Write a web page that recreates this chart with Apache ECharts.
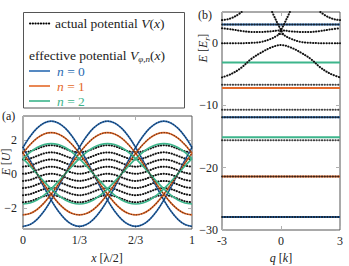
<!DOCTYPE html>
<html><head><meta charset="utf-8">
<script src="https://cdn.jsdelivr.net/npm/echarts@6/dist/echarts.min.js"></script>
<style>html,body{margin:0;padding:0;background:#fff}#c{width:349px;height:266px}</style>
</head><body><div id="c"></div>
<script>
// ---------- panel (a): x in units of lambda/2 ----------
const xA = [0,1/24,2/24,3/24,4/24,5/24,6/24,7/24,8/24,9/24,10/24,11/24,12/24,13/24,14/24,15/24,16/24,17/24,18/24,19/24,20/24,21/24,22/24,23/24,24/24];
const xTicksA = [0,1/3,2/3,1];
const xTickLabelsA = ['0','1/3','2/3','1'];
const yTicksA = [-2,0,2];

// effective potentials, n = 0 (blue), three shifted copies
const blueM0 = [1.55,2.19,2.68,2.99,3.1,2.99,2.68,2.19,1.55,0.8,0,-0.8,-1.55,-2.19,-2.68,-2.99,-3.1,-2.99,-2.68,-2.19,-1.55,-0.8,0,0.8,1.55];
const blueM1 = [-3.1,-2.99,-2.68,-2.19,-1.55,-0.8,0,0.8,1.55,2.19,2.68,2.99,3.1,2.99,2.68,2.19,1.55,0.8,0,-0.8,-1.55,-2.19,-2.68,-2.99,-3.1];
const blueM2 = [1.55,0.8,0,-0.8,-1.55,-2.19,-2.68,-2.99,-3.1,-2.99,-2.68,-2.19,-1.55,-0.8,0,0.8,1.55,2.19,2.68,2.99,3.1,2.99,2.68,2.19,1.55];
// n = 1 (orange)
const orangeM0 = [1.21,1.71,2.1,2.34,2.42,2.34,2.1,1.71,1.21,0.63,0,-0.63,-1.21,-1.71,-2.1,-2.34,-2.42,-2.34,-2.1,-1.71,-1.21,-0.63,0,0.63,1.21];
const orangeM1 = [-2.42,-2.34,-2.1,-1.71,-1.21,-0.63,0,0.63,1.21,1.71,2.1,2.34,2.42,2.34,2.1,1.71,1.21,0.63,0,-0.63,-1.21,-1.71,-2.1,-2.34,-2.42];
const orangeM2 = [1.21,0.63,0,-0.63,-1.21,-1.71,-2.1,-2.34,-2.42,-2.34,-2.1,-1.71,-1.21,-0.63,0,0.63,1.21,1.71,2.1,2.34,2.42,2.34,2.1,1.71,1.21];
// n = 2 (green)
const greenM0 = [0.89,1.26,1.54,1.72,1.78,1.72,1.54,1.26,0.89,0.46,0,-0.46,-0.89,-1.26,-1.54,-1.72,-1.78,-1.72,-1.54,-1.26,-0.89,-0.46,0,0.46,0.89];
const greenM1 = [-1.78,-1.72,-1.54,-1.26,-0.89,-0.46,0,0.46,0.89,1.26,1.54,1.72,1.78,1.72,1.54,1.26,0.89,0.46,0,-0.46,-0.89,-1.26,-1.54,-1.72,-1.78];
const greenM2 = [0.89,0.46,0,-0.46,-0.89,-1.26,-1.54,-1.72,-1.78,-1.72,-1.54,-1.26,-0.89,-0.46,0,0.46,0.89,1.26,1.54,1.72,1.78,1.72,1.54,1.26,0.89];

// actual potential, remaining branches (black dotted stripes)
const blackA1 = [1.26,1.32,1.47,1.62,1.68,1.62,1.47,1.32,1.26,1.32,1.47,1.62,1.68,1.62,1.47,1.32,1.26,1.32,1.47,1.62,1.68,1.62,1.47,1.32,1.26];
const blackA2 = [0.84,0.9,1.05,1.2,1.26,1.2,1.05,0.9,0.84,0.9,1.05,1.2,1.26,1.2,1.05,0.9,0.84,0.9,1.05,1.2,1.26,1.2,1.05,0.9,0.84];
const blackA3 = [0.42,0.48,0.63,0.78,0.84,0.78,0.63,0.48,0.42,0.48,0.63,0.78,0.84,0.78,0.63,0.48,0.42,0.48,0.63,0.78,0.84,0.78,0.63,0.48,0.42];
const blackA4 = [0,0.06,0.21,0.36,0.42,0.36,0.21,0.06,0,0.06,0.21,0.36,0.42,0.36,0.21,0.06,0,0.06,0.21,0.36,0.42,0.36,0.21,0.06,0];
const blackA5 = [-0.42,-0.36,-0.21,-0.06,0,-0.06,-0.21,-0.36,-0.42,-0.36,-0.21,-0.06,0,-0.06,-0.21,-0.36,-0.42,-0.36,-0.21,-0.06,0,-0.06,-0.21,-0.36,-0.42];
const blackA6 = [-0.84,-0.78,-0.63,-0.48,-0.42,-0.48,-0.63,-0.78,-0.84,-0.78,-0.63,-0.48,-0.42,-0.48,-0.63,-0.78,-0.84,-0.78,-0.63,-0.48,-0.42,-0.48,-0.63,-0.78,-0.84];
const blackA7 = [-1.26,-1.2,-1.05,-0.9,-0.84,-0.9,-1.05,-1.2,-1.26,-1.2,-1.05,-0.9,-0.84,-0.9,-1.05,-1.2,-1.26,-1.2,-1.05,-0.9,-0.84,-0.9,-1.05,-1.2,-1.26];
const blackA8 = [-1.68,-1.62,-1.47,-1.32,-1.26,-1.32,-1.47,-1.62,-1.68,-1.62,-1.47,-1.32,-1.26,-1.32,-1.47,-1.62,-1.68,-1.62,-1.47,-1.32,-1.26,-1.32,-1.47,-1.62,-1.68];

// ---------- panel (b): bands vs q ----------
const qEdges = [-3,3];
const xTicksB = [-3,0,3];
const yTicksB = [-30,-20,-10,0];
const blueBands = [3.0,-11.9,-27.9];
const orangeBands = [-7.2,-21.4];
const greenBands = [-3.1,-15.1];
const blackFlatBands = [3.0,-6.7,-10.7,-11.9,-15.6,-21.4,-27.9];
const qBell = [-3,-2.5,-2,-1.5,-1,-0.5,0,0.5,1,1.5,2,2.5,3];
const eBell = [-5.5,-4.9,-3.9,-2.5,-1.5,-0.7,-0.3,-0.7,-1.5,-2.5,-3.9,-4.9,-5.5];
const qHump = [-3,-2,-1.5,-1,-0.5,-0.25,0,0.25,0.5,1,1.5,2,3];
const eHump = [0,0,0.05,0.2,0.7,1.1,1.5,1.1,0.7,0.2,0.05,0,0];
const qUpper = [-3,-2.5,-2,-1.5,-1,-0.5,0,0.5,1,1.5,2,2.5,3];
const eUpper = [2.4,2.2,1.95,1.8,1.8,1.9,2.05,1.9,1.8,1.8,1.95,2.2,2.4];
const qVLeft = [-0.45,-0.3,-0.15,0,0.1];
const eVLeft = [5.0,4.0,3.0,2.1,1.5];
const qVRight = [-0.1,0,0.15,0.3,0.45];
const eVRight = [1.5,2.1,3.0,4.0,5.0];
const qArcLeft = [-3,-2.75,-2.5,-2.25,-2];
const eArcLeft = [3.7,3.8,4.05,4.45,5.0];
const qArcRight = [2,2.25,2.5,2.75,3];
const eArcRight = [5.0,4.45,4.05,3.8,3.7];

// ---------- drawing ----------
const FONT = 'Liberation Serif';
const C_BLUE = '#2b6cb3', C_ORANGE = '#e46a2a', C_GREEN = '#3db58b';
const DOT = {color:'#111', width:2, type:[0.3,2.4], cap:'round'};
const pairs = (xs, ys) => xs.map((x,i)=>[x, ys[i]]);

const series = [];
function line(grid, data, lineStyle, smooth, z){
  series.push({type:'line', xAxisIndex:grid, yAxisIndex:grid, data, symbol:'none', smooth:smooth?0.35:false,
    lineStyle, z:z||2, silent:true, animation:false});
}
// (a)
[blackA1,blackA2,blackA3,blackA4,blackA5,blackA6,blackA7,blackA8].forEach(a=>line(0, pairs(xA,a), DOT, true, 2));
const colA = [[blueM0,C_BLUE],[blueM1,C_BLUE],[blueM2,C_BLUE],[orangeM0,C_ORANGE],[orangeM1,C_ORANGE],[orangeM2,C_ORANGE],[greenM0,C_GREEN],[greenM1,C_GREEN],[greenM2,C_GREEN]];
colA.forEach(([a,c])=>line(0, pairs(xA,a), {color:c, width:1.7}, true, 3));
colA.slice(0,6).forEach(([a,c])=>line(0, pairs(xA,a), {color:'#000', width:1.3, type:[0.3,2.3], cap:'round', opacity:0.5}, true, 4));
// (b)
blueBands.forEach(e=>line(1, pairs(qEdges,[e,e]), {color:C_BLUE, width:2}, false, 3));
orangeBands.forEach(e=>line(1, pairs(qEdges,[e,e]), {color:C_ORANGE, width:2}, false, 3));
greenBands.forEach(e=>line(1, pairs(qEdges,[e,e]), {color:C_GREEN, width:2}, false, 3));
blackFlatBands.forEach(e=>line(1, pairs(qEdges,[e,e]), Object.assign({}, DOT, {opacity:0.8}), false, 4));
[[qBell,eBell],[qHump,eHump],[qUpper,eUpper],[qVLeft,eVLeft],[qVRight,eVRight],[qArcLeft,eArcLeft],[qArcRight,eArcRight]]
  .forEach(([q,e])=>line(1, pairs(q,e), DOT, true, 4));

const tickGray = {show:true, inside:true, length:4, lineStyle:{color:'#b0b0b0', width:1}};
const noLine = {show:false, onZero:false};
const lab = {fontFamily:FONT, fontSize:12, color:'#222'};
const minus = v => (v<0 ? '\u2212'+Math.abs(v) : String(v));

const option = {
  animation:false,
  backgroundColor:'#fff',
  grid:[
    {left:23, top:116, width:169, height:113, show:true, borderColor:'#555', borderWidth:1, backgroundColor:'transparent'},
    {left:222, top:12, width:118, height:218, show:true, borderColor:'#555', borderWidth:1, backgroundColor:'transparent'}
  ],
  xAxis:[
    {gridIndex:0, type:'value', min:0, max:1, axisLine:noLine, splitLine:{show:false},
      axisTick:Object.assign({customValues:xTicksA}, tickGray),
      axisLabel:Object.assign({customValues:xTicksA, margin:5, formatter:v=>xTickLabelsA[xTicksA.findIndex(t=>Math.abs(t-v)<1e-6)]}, lab)},
    {gridIndex:1, type:'value', min:-3, max:3, axisLine:noLine, splitLine:{show:false},
      axisTick:Object.assign({customValues:xTicksB}, tickGray),
      axisLabel:Object.assign({customValues:xTicksB, margin:5, formatter:v=>String(v)}, lab)},
    {gridIndex:0, position:'top', type:'value', min:0, max:1, axisLine:noLine, splitLine:{show:false}, axisLabel:{show:false},
      axisTick:Object.assign({customValues:xTicksA}, tickGray)},
    {gridIndex:1, position:'top', type:'value', min:-3, max:3, axisLine:noLine, splitLine:{show:false}, axisLabel:{show:false},
      axisTick:Object.assign({customValues:xTicksB}, tickGray)}
  ],
  yAxis:[
    {gridIndex:0, type:'value', min:-3.25, max:3.4, axisLine:noLine, splitLine:{show:false},
      axisTick:Object.assign({customValues:yTicksA}, tickGray),
      axisLabel:Object.assign({customValues:yTicksA, margin:6, formatter:minus}, lab)},
    {gridIndex:1, type:'value', min:-30, max:5, axisLine:noLine, splitLine:{show:false},
      axisTick:Object.assign({customValues:yTicksB}, tickGray),
      axisLabel:Object.assign({customValues:yTicksB, margin:4, formatter:minus}, lab)},
    {gridIndex:0, position:'right', type:'value', min:-3.25, max:3.4, axisLine:noLine, splitLine:{show:false}, axisLabel:{show:false},
      axisTick:Object.assign({customValues:yTicksA}, tickGray)},
    {gridIndex:1, position:'right', type:'value', min:-30, max:5, axisLine:noLine, splitLine:{show:false}, axisLabel:{show:false},
      axisTick:Object.assign({customValues:yTicksB}, tickGray)}
  ],
  series,
  graphic:[]
};

function richFor(size){
  return {
    i:{fontStyle:'italic', fontFamily:FONT, fontSize:size, lineHeight:size+4},
    s:{fontStyle:'italic', fontFamily:FONT, fontSize:Math.round(size*0.68), lineHeight:Math.round(size*0.68), verticalAlign:'bottom'}
  };
}
function txt(x,y,text,opts){
  opts = opts||{};
  const size = opts.size||12;
  option.graphic.push({type:'text', x, y, rotation:opts.rot||0, z:100, silent:true,
    style:{text, fill:opts.fill||'#222', fontFamily:FONT, fontSize:size, lineHeight:size+4,
      align:opts.align||'left', verticalAlign:'middle', rich:richFor(size)}});
}
// legend box
option.graphic.push({type:'rect', z:90, silent:true, shape:{x:23.5, y:12.5, width:161, height:95.5}, style:{fill:'#fff', stroke:'#555', lineWidth:1}});
option.graphic.push({type:'line', z:95, silent:true, shape:{x1:30, y1:23.5, x2:50, y2:23.5}, style:{stroke:'#000', lineWidth:2, lineDash:[0.3,2.4], lineCap:'round'}});
txt(55, 23, 'actual potential {i|V}({i|x})', {size:13.5});
txt(29, 55, 'effective potential {i|V}{s|\u03c6,n}({i|x})', {size:13.5});
[[C_BLUE,71,'0'],[C_ORANGE,86,'1'],[C_GREEN,101,'2']].forEach(([c,y,n])=>{
  option.graphic.push({type:'line', z:95, silent:true, shape:{x1:29, y1:y, x2:50, y2:y}, style:{stroke:c, lineWidth:1.6}});
  txt(57, y, '{i|n} = '+n, {fill:c, size:13.5});
});
// panel labels and axis names
txt(2, 116, '(a)');
txt(198, 15, '(b)');
txt(6, 162, '{i|E} [{i|U}]', {rot:Math.PI/2, align:'center'});
txt(107, 258, '{i|x} [\u03bb/2]', {align:'center'});
txt(203, 48, '{i|E} [{i|E}{s|r}]', {rot:Math.PI/2, align:'center'});
txt(281, 258, '{i|q} [{i|k}]', {align:'center'});

const chart = echarts.init(document.getElementById('c'), null, {renderer:'svg', width:349, height:266});
chart.setOption(option);
</script>
</body></html>
